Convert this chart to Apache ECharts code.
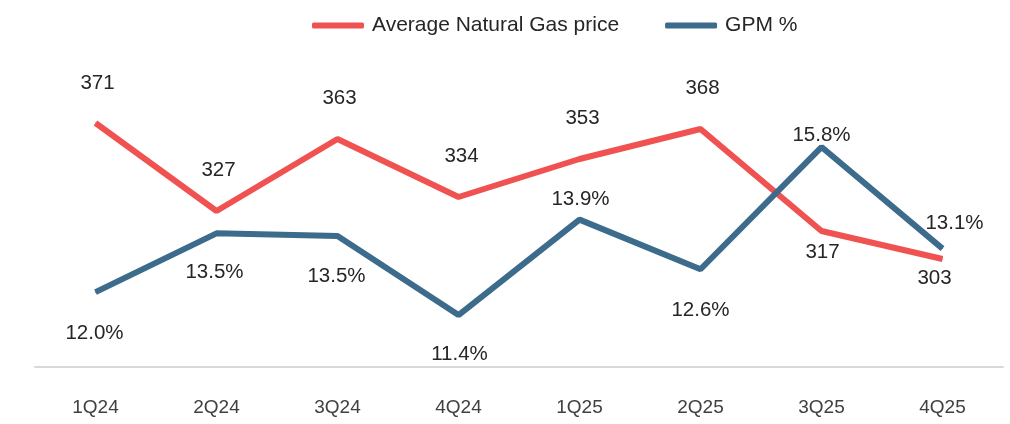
<!DOCTYPE html>
<html>
<head>
<meta charset="utf-8">
<script src="https://cdn.jsdelivr.net/npm/echarts@6/dist/echarts.min.js"></script>
<style>html,body{margin:0;padding:0;background:#fff}#c{width:1010px;height:424px}</style>
</head>
<body>
<div id="c"></div>
<script>
var categories = ['1Q24','2Q24','3Q24','4Q24','1Q25','2Q25','3Q25','4Q25'];
var gasPrice = [371, 327, 363, 334, 353, 368, 317, 303];
var gpm = [12.0, 13.54, 13.47, 11.4, 13.9, 12.6, 15.8, 13.14];
// label offsets [dx, dy] relative to points
var gasLabelOffsets = [[2,-40],[2,-41],[2,-41],[3,-41],[3,-41],[2,-41],[1,21],[-8,19]];
var gpmLabelOffsets = [[-1,41],[-2,39],[-1,40],[1,39],[1,-20],[0,41],[0,-12],[12,-25]];

var RED = '#F05252', BLUE = '#3C6B8B';
var FONT = 'Liberation Sans, Arial, sans-serif';

function items(vals, offs, fmt) {
  return vals.map(function (v, i) {
    return { value: v, label: { offset: offs[i], formatter: fmt(v) } };
  });
}

var chart = echarts.init(document.getElementById('c'));
chart.setOption({
  animation: false,
  backgroundColor: '#fff',
  legend: {
    top: 10, left: 307,
    itemWidth: 52, itemHeight: 6, itemGap: 46,
    textStyle: { fontSize: 21, color: '#262626', fontFamily: FONT, padding: [0, 0, 0, 3] },
    data: [
      { name: 'Average Natural Gas price', icon: 'roundRect' },
      { name: 'GPM %', icon: 'roundRect' }
    ]
  },
  grid: { left: 35, right: 7, top: 47, bottom: 57 },
  xAxis: {
    type: 'category', data: categories, boundaryGap: true,
    axisLine: { lineStyle: { color: '#d9d9d9', width: 2 } },
    axisTick: { show: false },
    axisLabel: { margin: 31, fontSize: 19, color: '#404040', fontFamily: FONT }
  },
  yAxis: [
    { type: 'value', min: 249, max: 409, show: false, splitLine: { show: false } },
    { type: 'value', min: 10.04, max: 18.42, show: false, splitLine: { show: false } }
  ],
  series: [
    {
      name: 'Average Natural Gas price', type: 'line', yAxisIndex: 0,
      data: items(gasPrice, gasLabelOffsets, function (v) { return String(v); }),
      symbol: 'circle', symbolSize: 1,
      lineStyle: { color: RED, width: 6 }, itemStyle: { color: RED },
      label: { show: true, position: 'inside', fontSize: 20.5, color: '#262626', fontFamily: FONT }
    },
    {
      name: 'GPM %', type: 'line', yAxisIndex: 1,
      data: items(gpm, gpmLabelOffsets, function (v) { return (Math.round(v * 10) / 10).toFixed(1) + '%'; }),
      symbol: 'circle', symbolSize: 1,
      lineStyle: { color: BLUE, width: 6 }, itemStyle: { color: BLUE },
      label: { show: true, position: 'inside', fontSize: 20.5, color: '#262626', fontFamily: FONT }
    }
  ]
});
</script>
</body>
</html>
